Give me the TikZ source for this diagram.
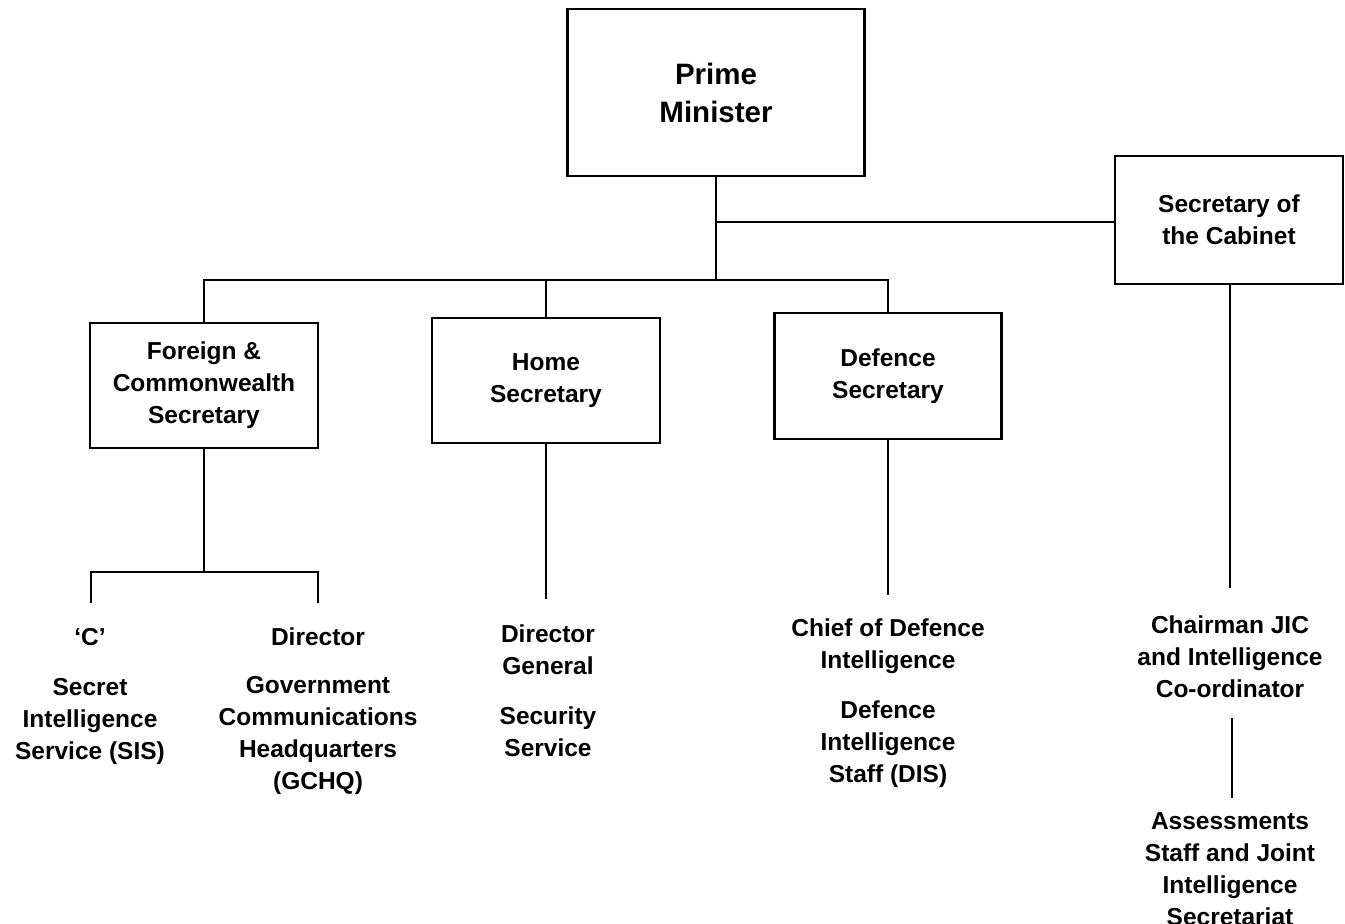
\documentclass[tikz,border=0pt]{standalone}
\usepackage{fontspec}
\setmainfont{Liberation Sans}
\begin{document}
\begin{tikzpicture}[x=1pt,y=-1pt,
  line width=2.1pt,
  txt/.style={font=\bfseries\fontsize{24.5}{32}\selectfont, align=center, inner sep=0pt},
  box/.style={txt, draw, line width=2.1pt},
  conn/.style={draw, line width=2.1pt, line join=miter, line cap=rect}]
\useasboundingbox (0,0) rectangle (1345,924);
\clip (0,0) rectangle (1345,924);
% boxes
\node[box, minimum width=297pt, minimum height=167pt, font=\bfseries\fontsize{29.5}{38}\selectfont] (pm) at (716,92.5) {Prime\\Minister};
\node[box, minimum width=228pt, minimum height=128pt] (cab) at (1229,220) {Secretary of\\the Cabinet};
\node[box, minimum width=228pt, minimum height=125pt] (fcs) at (204,385.5) {Foreign \&\\Commonwealth\\Secretary};
\node[box, minimum width=228pt, minimum height=125pt] (home) at (546,380.5) {Home\\Secretary};
\node[box, minimum width=227pt, minimum height=126pt] (def) at (888,376) {Defence\\Secretary};
% texts
\node[txt] (c) at (90,637) {`C'};
\node[txt] (sis) at (90,721) {Secret\\Intelligence\\Service (SIS)};
\node[txt] (dir) at (318,637) {Director};
\node[txt] (gchq) at (318,735) {Government\\Communications\\Headquarters\\(GCHQ)};
\node[txt] (dg) at (548,650) {Director\\General};
\node[txt] (ss) at (548,732) {Security\\Service};
\node[txt] (cdi) at (888,646) {Chief of Defence\\Intelligence};
\node[txt] (dis) at (888,744) {Defence\\Intelligence\\Staff (DIS)};
\node[txt] (chair) at (1230,657) {Chairman JIC\\and Intelligence\\Co-ordinator};
\node[txt] (ass) at (1230,869) {Assessments\\Staff and Joint\\Intelligence\\Secretariat};
% junction coordinates
\coordinate (j0) at (716,222);
\coordinate (j1) at (716,280);
\coordinate (j2) at (204,572);
\coordinate (cL) at (91,602);
\coordinate (cR) at (318,602);
\coordinate (hE) at (546,598);
\coordinate (dE) at (888,594);
\coordinate (kE) at (1230,587);
\coordinate (a1) at (1232,719);
\coordinate (a2) at (1232,797);
% connectors
\draw[conn] (pm.south) -- (j1);
\draw[conn] (j0) -- (j0 -| cab.west);
\draw[conn] (fcs.north) -- (fcs.north |- j1) -- (def.north |- j1) -- (def.north);
\draw[conn] (home.north) -- (home.north |- j1);
\draw[conn] (fcs.south) -- (j2);
\draw[conn] (cL) -- (cL |- j2) -- (cR |- j2) -- (cR);
\draw[conn] (home.south -| hE) -- (hE);
\draw[conn] (def.south -| dE) -- (dE);
\draw[conn] (cab.south -| kE) -- (kE);
\draw[conn] (a1) -- (a2);
\end{tikzpicture}
\end{document}
